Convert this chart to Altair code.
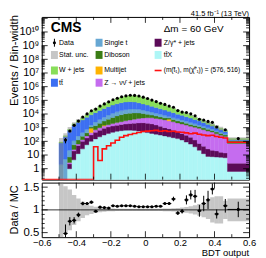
import altair as alt
import pandas as pd

# ---------------- data ----------------
edges = [-0.5, -0.475, -0.45, -0.425, -0.4, -0.375, -0.35, -0.325, -0.3, -0.275,
         -0.25, -0.225, -0.2, -0.175, -0.15, -0.125, -0.1, -0.075, -0.05, -0.025,
         0.0, 0.025, 0.05, 0.075, 0.1, 0.125, 0.15, 0.175, 0.2, 0.225,
         0.25, 0.275, 0.3, 0.325, 0.35, 0.375, 0.4, 0.425, 0.45, 0.475, 0.6]

# cumulative stack tops, log10(events / bin width), bottom -> top
ttx_top = [-2, -2, 0.0, 0.65, 1.1, 1.45, 1.75, 2.0, 2.18, 2.33, 2.46, 2.57, 2.66, 2.73, 2.78, 2.81,
           2.82, 2.8, 2.76, 2.7, 2.64, 2.58, 2.52, 2.46, 2.4, 2.33, 2.27, 2.2, 2.1, 1.95, 1.8, 1.6,
           1.35, 1.1, 0.9, 0.88, 0.85, 0.83, 0.8, -0.2]
dy_top = [-2, -2, 0.35, 1.3, 1.7, 2.0, 2.25, 2.47, 2.66, 2.82, 2.95, 3.05, 3.12, 3.18, 3.23, 3.27,
          3.3, 3.33, 3.35, 3.36, 3.33, 3.28, 3.2, 3.1, 3.0, 2.92, 2.82, 2.7, 2.58, 2.45, 2.3, 2.1,
          1.85, 1.65, 1.45, 1.35, 1.3, 1.2, 1.15, 0.4]
znn_top = [-2, -2, 0.45, 1.4, 1.8, 2.12, 2.4, 2.64, 2.84, 3.0, 3.12, 3.22, 3.3, 3.37, 3.44, 3.5,
           3.56, 3.62, 3.67, 3.71, 3.73, 3.72, 3.68, 3.63, 3.57, 3.5, 3.43, 3.35, 3.27, 3.19, 3.1, 3.03,
           2.95, 2.85, 2.75, 2.68, 2.55, 2.45, 2.35, 1.85]
qcd_top = [-2, -2, 0.45, 1.4, 1.8, 2.12, 2.4, 2.96, 2.84, 3.0, 3.17, 3.22, 3.3, 3.37, 3.44, 3.5,
           3.56, 3.62, 3.67, 3.71, 3.73, 3.72, 3.68, 3.63, 3.57, 3.62, 3.43, 3.35, 3.27, 3.19, 3.1, 3.03,
           2.95, 2.85, 2.75, 2.68, 2.55, 2.45, 2.35, 1.85]
vv_top = [-2, -2, 0.85, 1.75, 2.1, 2.38, 2.62, 3.05, 3.15, 3.32, 3.48, 3.62, 3.75, 3.86, 3.95, 4.02,
          4.06, 4.08, 4.07, 4.03, 3.98, 3.92, 3.86, 3.79, 3.72, 3.7, 3.6, 3.5, 3.42, 3.33, 3.24, 3.16,
          3.08, 2.98, 2.88, 2.8, 2.68, 2.57, 2.47, 2.02]
st_top = [0.3, 0.7, 1.35, 2.05, 2.4, 2.65, 2.88, 3.2, 3.42, 3.6, 3.77, 3.92, 4.05, 4.16, 4.25, 4.32,
          4.36, 4.37, 4.35, 4.29, 4.22, 4.14, 4.06, 3.98, 3.9, 3.82, 3.73, 3.65, 3.56, 3.47, 3.38, 3.29,
          3.2, 3.1, 3.0, 2.9, 2.78, 2.66, 2.55, 2.07]
tt_top = [1.88, 2.34, 2.8, 3.16, 3.4, 3.57, 3.76, 3.94, 4.1, 4.25, 4.4, 4.53, 4.65, 4.75, 4.83, 4.88,
          4.9, 4.88, 4.82, 4.74, 4.65, 4.56, 4.47, 4.38, 4.29, 4.2, 4.1, 3.99, 3.9, 3.8, 3.7, 3.6,
          3.5, 3.38, 3.25, 3.13, 3.0, 2.86, 2.72, 2.12]
wj_top = [1.95, 2.41, 2.88, 3.28, 3.53, 3.72, 3.95, 4.17, 4.37, 4.55, 4.72, 4.87, 5.0, 5.12, 5.22, 5.29,
          5.33, 5.33, 5.29, 5.2, 5.1, 4.99, 4.88, 4.76, 4.64, 4.52, 4.4, 4.28, 4.15, 4.02, 3.89, 3.76,
          3.63, 3.5, 3.37, 3.23, 3.09, 2.95, 2.81, 2.2]

stat_unc = [1.0, 0.52, 0.45, 0.33, 0.25, 0.18, 0.12, 0.09, 0.07, 0.05, 0.04, 0.03, 0.03, 0.025, 0.025,
            0.025, 0.025, 0.025, 0.025, 0.025, 0.025, 0.025, 0.025, 0.025, 0.028, 0.03, 0.035, 0.04,
            0.05, 0.065, 0.08, 0.1, 0.13, 0.16, 0.2, 0.28, 0.3, 0.3, 0.2, 0.25]

data_log = [None, 2.09, 2.76, 3.17, 3.48, 3.78, 4.01, 4.24, 4.36, 4.58, 4.74, 4.89, 5.04, 5.15, 5.26,
            5.33, 5.37, 5.36, 5.32, 5.23, 5.13, 5.02, 4.91, 4.79, 4.70, 4.58, 4.49, 4.25, 4.14, 4.11,
            4.01, 3.87, 3.62, 3.56, 3.46, 3.39, 3.05, None, 2.85, 2.2]

signal_log = [None, None, None, None, None, None, None, None,
              1.6, 0.6, 1.45, 1.68, 1.88, 2.08, 2.3, 2.42, 2.5, 2.58, 2.65, 2.72, 2.75, 2.78, 2.8,
              2.74, 2.78, 2.72, 2.74, 2.68, 2.66, 2.62, 2.56, 2.6, 2.52, 2.47, 2.42, 2.45, 2.36,
              2.3, 2.25, 1.93]

ratio = [None, 0.48, 0.75, 0.77, 0.89, 1.14, 1.14, 1.17, 0.97, 1.06, 1.05, 1.04, 1.09, 1.08, 1.09,
         1.09, 1.09, 1.08, 1.07, 1.07, 1.07, 1.07, 1.08, 1.08, 1.14, 1.14, 1.24, 0.93, 0.97, 1.22,
         1.33, 1.30, 0.98, 1.14, 1.22, 1.46, 0.91, None, 1.09, 1.01]
ratio_err = [None, 0.2, 0.09, 0.07, 0.05, 0.04, 0.03, 0.03, 0.02, 0.015, 0.01, 0.01, 0.01, 0.01, 0.01,
             0.01, 0.01, 0.01, 0.01, 0.01, 0.01, 0.01, 0.012, 0.015, 0.025, 0.03, 0.05, 0.04, 0.05,
             0.1, 0.1, 0.14, 0.13, 0.17, 0.2, 0.12, 0.1, None, 0.15, 0.17]

proc_names = ["ttX", "Zgamma", "Znunu", "Multijet", "Diboson", "Single t", "ttbar", "W+jets"]
proc_colors = ["#aef6f6", "#5c0b58", "#c56cef", "#ffb300", "#3a7c14", "#67a7d3", "#3d6ff2", "#88de5a"]
stack_tops = [ttx_top, dy_top, znn_top, qcd_top, vv_top, st_top, tt_top, wj_top]

# ---------------- layout constants ----------------
W, H1, H2 = 209, 164, 55
LOGMIN, LOGMAX = -0.8, 11.1
FONT = "Liberation Sans"
HATCH = "#808080"
HATCH_OP = 0.45

xsc = alt.Scale(domain=[-0.6, 0.6], nice=False, zero=False)
ysc = alt.Scale(type="log", domain=[10 ** LOGMIN, 10 ** LOGMAX], nice=False)
rsc = alt.Scale(domain=[0.4, 1.6], nice=False, zero=False)

sup = "['1','10','10²','10³','10⁴','10⁵','10⁶','10⁷','10⁸','10⁹','10¹⁰'][round(log(datum.value)/LN10)]"
yax = alt.Axis(values=[10.0 ** n for n in range(11)], labelExpr=sup, ticks=False, domain=False,
               grid=False, title=None, labelFont=FONT, labelFontSize=11, labelPadding=3,
               labelColor="black")
rax = alt.Axis(values=[0.5, 1.0, 1.5], format="~g", ticks=False, domain=False, grid=False,
               title=None, labelFont=FONT, labelFontSize=11.5, labelPadding=3, labelColor="black")
xax = alt.Axis(values=[-0.6, -0.4, -0.2, 0.0, 0.2, 0.4, 0.6],
               labelExpr="datum.value == 0 ? '0' : format(datum.value, '.1f')",
               ticks=False, domain=False, grid=False, title=None, labelFont=FONT,
               labelFontSize=9.5, labelPadding=0.5, labelColor="black", labelFlush=False,
               labelOverlap=False)

# ---------------- main panel tables ----------------
stack_rows, band_rows, data_rows, sig_rows = [], [], [], []
for k in range(len(edges) - 1):
    prev = -3.0
    for name, tops in zip(proc_names, stack_tops):
        t = tops[k]
        if t > prev:
            stack_rows.append(dict(x0=edges[k], x1=edges[k + 1], lo=10 ** prev, hi=10 ** t, proc=name))
            prev = t
    mc = 10 ** wj_top[k]
    u = stat_unc[k]
    band_rows.append(dict(x0=edges[k], x1=edges[k + 1], lo=max(mc * (1 - u), 1e-3), hi=mc * (1 + u),
                          rlo=1 - u, rhi=1 + u))
    xc = 0.5 * (edges[k] + edges[k + 1])
    if data_log[k] is not None:
        d = 10 ** data_log[k]
        rel = ratio_err[k] / ratio[k]
        data_rows.append(dict(xc=xc, x0=edges[k], x1=edges[k + 1], d=d, dlo=d * (1 - rel), dhi=d * (1 + rel),
                              r=ratio[k], rlo=ratio[k] - ratio_err[k], rhi=ratio[k] + ratio_err[k]))
    s = 10 ** signal_log[k] if signal_log[k] is not None else 10 ** LOGMIN
    sig_rows.append(dict(x=edges[k], s=s, o=2 * k + 1))
    sig_rows.append(dict(x=edges[k + 1], s=s, o=2 * k + 2))
sig_rows.insert(0, dict(x=-0.6, s=10 ** LOGMIN, o=0))

stack_df = pd.DataFrame(stack_rows)
band_df = pd.DataFrame(band_rows)
data_df = pd.DataFrame(data_rows)
sig_df = pd.DataFrame(sig_rows)

color = alt.Color("proc:N", scale=alt.Scale(domain=proc_names, range=proc_colors), legend=None)

stack = alt.Chart(stack_df).mark_rect(clip=True, strokeWidth=0.4).encode(
    x=alt.X("x0:Q", scale=xsc, axis=None), x2="x1:Q",
    y=alt.Y("lo:Q", scale=ysc, axis=yax), y2="hi:Q", color=color, stroke=color)

band = alt.Chart(band_df).mark_rect(clip=True, color=HATCH, opacity=HATCH_OP).encode(
    x=alt.X("x0:Q", scale=xsc, axis=None), x2="x1:Q",
    y=alt.Y("lo:Q", scale=ysc, axis=yax), y2="hi:Q")

signal = alt.Chart(sig_df).mark_line(clip=True, color="#ff1010", strokeWidth=1.6).encode(
    x=alt.X("x:Q", scale=xsc, axis=None), y=alt.Y("s:Q", scale=ysc, axis=yax), order="o:Q")

derr = alt.Chart(data_df).mark_rule(clip=True, color="black", strokeWidth=1).encode(
    x=alt.X("xc:Q", scale=xsc, axis=None), y=alt.Y("dlo:Q", scale=ysc, axis=yax), y2="dhi:Q")
dots = alt.Chart(data_df).mark_circle(clip=True, color="black", opacity=1, size=10).encode(
    x=alt.X("xc:Q", scale=xsc, axis=None), y=alt.Y("d:Q", scale=ysc, axis=yax))

# inward ticks of the frame (positions in data units, lengths in px)
ymaj = [10.0 ** n for n in range(0, 12)]
ymin_ = [m * 10.0 ** n for n in range(-1, 11) for m in range(2, 10) if m * 10.0 ** n > 10 ** LOGMIN]
xmaj = [-0.4, -0.2, 0.0, 0.2, 0.4]
xmin_ = [-0.5, -0.3, -0.1, 0.1, 0.3, 0.5]
rmaj = [0.5, 1.0, 1.5]
rmin_ = [0.6, 0.7, 0.8, 0.9, 1.1, 1.2, 1.3, 1.4]


def yticks(vals, scale, axis, length, width):
    df = pd.DataFrame({"v": vals})
    base = alt.Chart(df).mark_rule(color="black", strokeWidth=0.8)
    left = base.encode(x=alt.value(0), x2=alt.value(length), y=alt.Y("v:Q", scale=scale, axis=axis))
    right = base.encode(x=alt.value(width - length), x2=alt.value(width),
                        y=alt.Y("v:Q", scale=scale, axis=axis))
    return [left, right]


def xticks(vals, length, height, axis):
    df = pd.DataFrame({"v": vals})
    base = alt.Chart(df).mark_rule(color="black", strokeWidth=0.8)
    bot = base.encode(x=alt.X("v:Q", scale=xsc, axis=axis), y=alt.value(height - length), y2=alt.value(height))
    top = base.encode(x=alt.X("v:Q", scale=xsc, axis=axis), y=alt.value(0), y2=alt.value(length))
    return [bot, top]


one = pd.DataFrame({"a": [0]})


def text(t, x, y, size=7, align="left", weight="normal", angle=0, baseline="middle"):
    kw = dict(text=t, font=FONT, fontSize=size, align=align, baseline=baseline, fontWeight=weight,
              color="black")
    if angle:
        kw["angle"] = angle
    return alt.Chart(one).mark_text(**kw).encode(x=alt.value(x), y=alt.value(y))


def swatch(cx, cy, col, opacity=1.0):
    return alt.Chart(one).mark_rect(color=col, opacity=opacity).encode(
        x=alt.value(cx - 3.5), x2=alt.value(cx + 3.5), y=alt.value(cy - 4), y2=alt.value(cy + 4))


rows_y = [26, 38.3, 54, 66.3]
c1, c2, c3 = 12.8, 57.8, 117.3
legend = [
    alt.Chart(one).mark_rule(color="black", strokeWidth=1).encode(
        x=alt.value(c1), y=alt.value(rows_y[0] - 4), y2=alt.value(rows_y[0] + 4)),
    alt.Chart(one).mark_circle(color="black", opacity=1, size=10).encode(x=alt.value(c1), y=alt.value(rows_y[0])),
    swatch(c1, rows_y[1], HATCH, HATCH_OP),
    swatch(c1, rows_y[2], proc_colors[7]),
    swatch(c1, rows_y[3], proc_colors[6]),
    swatch(c2, rows_y[0], proc_colors[5]),
    swatch(c2, rows_y[1], proc_colors[4]),
    swatch(c2, rows_y[2], proc_colors[3]),
    swatch(c2, rows_y[3], proc_colors[2]),
    swatch(c3, rows_y[0], proc_colors[1]),
    swatch(c3, rows_y[1], proc_colors[0]),
    alt.Chart(one).mark_rule(color="#ff1010", strokeWidth=1.6).encode(
        x=alt.value(c3 - 3.5), x2=alt.value(c3 + 3.5), y=alt.value(rows_y[2])),
    text("Data", c1 + 4.7, rows_y[0]),
    text("Stat. unc.", c1 + 4.7, rows_y[1]),
    text("W + jets", c1 + 4.7, rows_y[2]),
    text("tt̄", c1 + 4.7, rows_y[3]),
    text("Single t", c2 + 5.2, rows_y[0]),
    text("Diboson", c2 + 5.2, rows_y[1]),
    text("Multijet", c2 + 5.2, rows_y[2]),
    text("Z → νν̄ + jets", c2 + 5.2, rows_y[3]),
    text("Z/γ* + jets", c3 + 5.7, rows_y[0]),
    text("tt̄X", c3 + 5.7, rows_y[1]),
    text("(m(t̃₁), m(χ̃⁰₁)) = (576, 516)", c3 + 5.7, rows_y[2], size=6.6),
]

annot = [
    text("CMS", 9, 11, size=14, weight="bold"),
    text("Δm = 60 GeV", 123, 12, size=10),
    text("41.5 fb⁻¹ (13 TeV)", W, -1, size=7.5, align="right", baseline="alphabetic"),
    text("Events / Bin-width", -27, -2, size=11.5, align="right", angle=270),
]

main = alt.layer(
    stack, band, signal, derr, dots,
    *yticks(ymaj, ysc, yax, 6, W), *yticks(ymin_, ysc, yax, 3, W),
    *xticks(xmaj, 6, H1, None), *xticks(xmin_, 3, H1, None),
    *legend, *annot,
).properties(width=W, height=H1)

# ---------------- ratio panel ----------------
rband = alt.Chart(band_df).mark_rect(clip=True, color=HATCH, opacity=HATCH_OP).encode(
    x=alt.X("x0:Q", scale=xsc, axis=xax), x2="x1:Q",
    y=alt.Y("rlo:Q", scale=rsc, axis=rax), y2="rhi:Q")
unity = alt.Chart(pd.DataFrame({"one": [1.0]})).mark_rule(color="black", strokeWidth=0.8).encode(
    x=alt.value(0), x2=alt.value(W), y=alt.Y("one:Q", scale=rsc, axis=rax))
rv = alt.Chart(data_df).mark_rule(clip=True, color="black", strokeWidth=1).encode(
    x=alt.X("xc:Q", scale=xsc, axis=xax), y=alt.Y("rlo:Q", scale=rsc, axis=rax), y2="rhi:Q")
rh = alt.Chart(data_df).mark_rule(clip=True, color="black", strokeWidth=1).encode(
    x=alt.X("x0:Q", scale=xsc, axis=xax), x2="x1:Q", y=alt.Y("r:Q", scale=rsc, axis=rax))
rdots = alt.Chart(data_df).mark_circle(clip=True, color="black", opacity=1, size=10).encode(
    x=alt.X("xc:Q", scale=xsc, axis=xax), y=alt.Y("r:Q", scale=rsc, axis=rax))

ratio_chart = alt.layer(
    rband, unity, rv, rh, rdots,
    *yticks(rmaj, rsc, rax, 6, W), *yticks(rmin_, rsc, rax, 3, W),
    *xticks(xmaj, 6, H2, xax), *xticks(xmin_, 3, H2, xax),
    text("Data / MC", -27, H2 / 2, size=11, align="center", angle=270),
    text("BDT output", W, H2 + 16, size=9.5, align="right"),
).properties(width=W, height=H2)

chart = alt.vconcat(main, ratio_chart, spacing=0).properties(
    padding={"left": 0, "top": 0, "right": 1, "bottom": 0}, background="white"
).configure_view(stroke="black", strokeWidth=1)

chart.save("out.html", embed_options={"renderer": "svg", "actions": False})
